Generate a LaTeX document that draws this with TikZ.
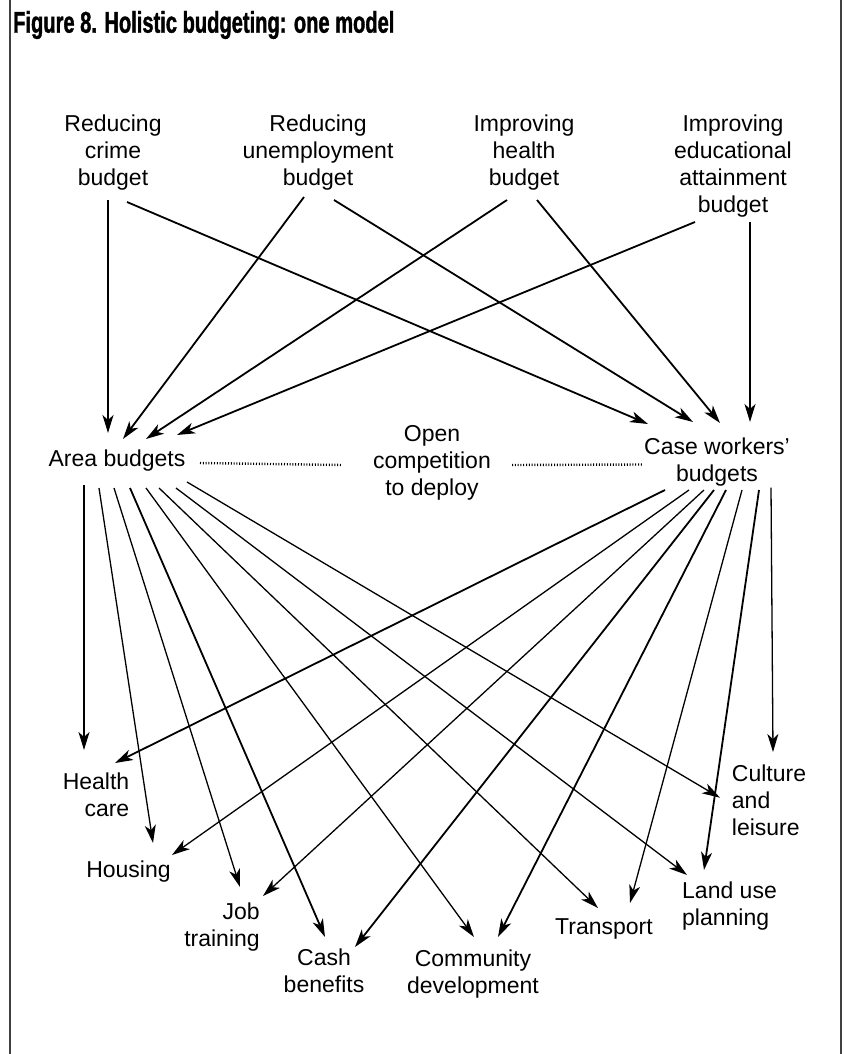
\documentclass[tikz,border=0pt]{standalone}
\usepackage{fontspec}
\setmainfont{Liberation Sans}
\newfontfamily\titlefont{Liberation Sans Bold}[FakeStretch=0.67,FakeBold=1.2]
\usepackage{graphicx}
\usetikzlibrary{arrows.meta,calc}
\tikzset{
  lbl/.style={font=\fontsize{23}{27}\selectfont, inner sep=0pt, align=center},
  arr/.style={line width=1.8pt, -{Stealth[length=18pt,width=11pt,inset=5pt]}},
  arrthin/.style={arr, line width=1.3pt},
  dotline/.style={line width=2.4pt, dash pattern=on 1pt off 1.8pt},
  frameline/.style={line width=2pt, draw=black!75}
}
\begin{document}
\begin{tikzpicture}[x=1pt,y=-1pt]
\useasboundingbox (0,0) rectangle (845,1054);
\draw[frameline] (9.5,0) -- (9.5,1054);
\draw[frameline] (840.5,0) -- (840.5,1054);
\node[anchor=west, inner sep=0pt, font=\titlefont\fontsize{30}{30}\selectfont] (title) at (13,25) {Figure 8. Holistic budgeting: one model};
% top budgets
\node[lbl] (A1) at (113,153) {Reducing\\crime\\budget};
\node[lbl] (A2) at (318,153) {Reducing\\unemployment\\budget};
\node[lbl] (A3) at (524,153) {Improving\\health\\budget};
\node[lbl] (A4) at (733,166.5) {Improving\\educational\\attainment\\budget};
% middle
\node[lbl] (area) at (117,461) {Area budgets};
\node[lbl] (open) at (432,463) {Open\\competition\\to deploy};
\node[lbl] (cw) at (717,462.5) {Case workers’\\budgets};
% bottom
\node[lbl, align=right] (hc) at (96,795) {Health\\care};
\node[lbl] (hous) at (128.5,872) {Housing};
\node[lbl, align=right] (job) at (222,927.5) {Job\\training};
\node[lbl] (cash) at (324,971) {Cash\\benefits};
\node[lbl] (comm) at (473,974.5) {Community\\development};
\node[lbl] (trans) at (604,929) {Transport};
\node[lbl, align=left] (land) at (729.5,906.5) {Land use\\planning};
\node[lbl, align=left] (cult) at (769,800.7) {Culture\\and\\leisure};
% dotted
\draw[dotline] ([shift={(83,2)}]area.center) -- ([shift={(-90,2)}]open.center);
\draw[dotline] ([shift={(80,2)}]open.center) -- ([shift={(-2,2)}]cw.west);
% top arrows
\draw[arr] ([shift={(-5,47)}]A1.center) -- ([shift={(-9,-28)}]area.center);
\draw[arr] ([shift={(14,49)}]A1.center) -- ([shift={(-69,-38.5)}]cw.center);
\draw[arr] ([shift={(-14,44)}]A2.center) -- ([shift={(6,-22)}]area.center);
\draw[arr] ([shift={(16,47)}]A2.center) -- ([shift={(-24,-40.5)}]cw.center);
\draw[arr] ([shift={(-17,47)}]A3.center) -- ([shift={(29,-22)}]area.center);
\draw[arr] ([shift={(13,47)}]A3.center) -- ([shift={(3,-39.5)}]cw.center);
\draw[arr] ([shift={(-38,55.5)}]A4.center) -- ([shift={(60,-26)}]area.center);
\draw[arr] ([shift={(17,55.5)}]A4.center) -- ([shift={(33,-40.5)}]cw.center);
% area budgets to services
\draw[arr] ([shift={(-33,24)}]area.center) -- ([shift={(-12,-45)}]hc.center);
\draw[arrthin] ([shift={(-18,27)}]area.center) -- ([shift={(24.5,-29)}]hous.center);
\draw[arrthin] ([shift={(-3,27)}]area.center) -- ([shift={(18,-40.5)}]job.center);
\draw[arr] ([shift={(13,27)}]area.center) -- ([shift={(1,-34)}]cash.center);
\draw[arrthin] ([shift={(29,27)}]area.center) -- ([shift={(1,-37.5)}]comm.center);
\draw[arrthin] ([shift={(42,27)}]area.center) -- ([shift={(-6,-21)}]trans.center);
\draw[arrthin] ([shift={(59,27)}]area.center) -- ([shift={(-42.5,-31.5)}]land.center);
\draw[arrthin] ([shift={(70,21)}]area.center) -- ([shift={(-49,-3)}]cult.center);
% case workers to services
\draw[arr] ([shift={(-52,27.5)}]cw.center) -- ([shift={(19,-32)}]hc.center);
\draw[arrthin] ([shift={(-28,27.5)}]cw.center) -- ([shift={(43.5,-17)}]hous.center);
\draw[arrthin] ([shift={(-13,27.5)}]cw.center) -- ([shift={(41,-31.5)}]job.center);
\draw[arr] ([shift={(-3,27.5)}]cw.center) -- ([shift={(31,-24)}]cash.center);
\draw[arr] ([shift={(9,27.5)}]cw.center) -- ([shift={(25,-37.5)}]comm.center);
\draw[arrthin] ([shift={(25,27.5)}]cw.center) -- ([shift={(26,-26)}]trans.center);
\draw[arr] ([shift={(42,27.5)}]cw.center) -- ([shift={(-25.5,-36.5)}]land.center);
\draw[arrthin] ([shift={(54,25)}]cw.center) -- ([shift={(56,-48.7)}]cw.center |- cult.center);
\end{tikzpicture}
\end{document}
